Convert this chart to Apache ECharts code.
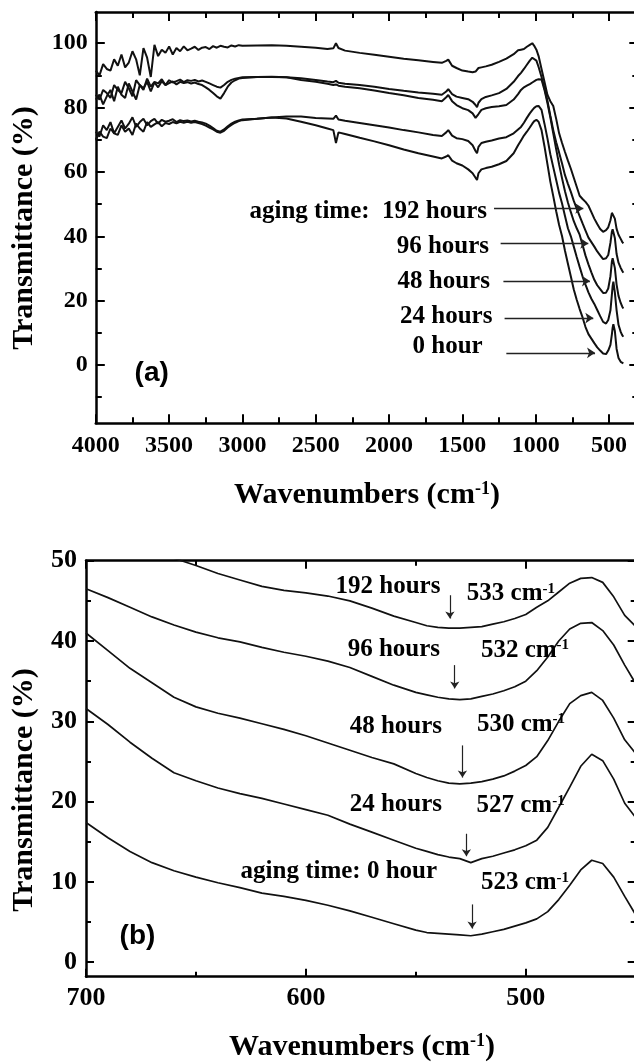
<!DOCTYPE html>
<html>
<head>
<meta charset="utf-8">
<script src="https://cdn.jsdelivr.net/npm/echarts@6/dist/echarts.min.js"></script>
<style>
html,body{margin:0;padding:0;background:#fff;}
#chart{width:634px;height:1064px;}
</style>
</head>
<body>
<div id="chart"></div>
<script>
// ---------- Panel (a): full spectra ----------
const topWavenumbers = [
  4000,3975,3950,3925,3900,3875,3850,3825,3800,3775,3750,3725,3700,3675,3650,3625,3600,3575,3550,3525,
  3500,3475,3450,3425,3400,3375,3350,3325,3300,3275,3250,3225,3200,3175,3150,3125,3100,3075,3050,3025,3000,
  2900,2800,2700,2600,2500,2420,2380,2362,2345,2300,2200,2100,2000,1900,1800,1700,1640,1610,1596,1570,
  1540,1500,1460,1430,1410,1400,1390,1370,1340,1300,1250,1200,1150,1120,1100,1080,1060,1040,1023,1010,
  995,980,960,940,920,900,880,860,840,820,800,780,760,740,720,700,680,660,640,620,
  600,580,560,540,520,505,490,480,475,470,460,448,435,420,410,402
];
const top192h = [
  91.5,90,93.5,92,91.5,95,93,96.5,92.5,94,97.5,95,90,98.5,95.5,89.5,99.5,96,98,97,
  99,96.5,98.5,97.5,99,97.8,98.3,98.9,97.9,98.6,98.8,98.2,99.1,98.6,99.2,98.9,98.7,99.3,99,99.4,99.2,
  99.3,99.4,99.2,98.9,98.6,98.2,98.4,100,98.5,97.7,97,96.4,95.8,95.2,94.7,94.2,93.9,94.5,94.9,93,
  92.3,91.5,91.2,91,91.2,91.5,92.3,92.5,92.8,93.3,94.2,95.2,96.6,97.8,98,98.2,98.9,99.5,100,99.2,
  98,96,92,88,84,82,80.5,76.5,72,69,66.2,63.5,61,58.2,55.4,52.6,51.6,50.7,49.5,47.5,
  45.5,43.8,42.3,41.4,41.9,42.8,45,47.3,47.8,47.9,45.5,42.3,40.5,39.2,38.3,37.8
];
const top96h = [
  84,82.5,85.5,84.5,83,87,85.5,84.5,88,86,83.5,88.5,87,85.5,89,86.5,88,87.5,88.8,87,
  88.5,87.8,88.2,88.7,87.9,88.5,88.3,88.6,88.1,88.4,88,87.5,87,86.5,86.2,87,88,88.6,89,89.2,89.4,
  89.5,89.5,89.4,89.1,88.6,88.1,87.9,88.3,87.7,87.4,87,86.5,85.8,85.2,84.7,84.3,84,85,85.7,84.2,
  83.4,83,82.6,81.8,80.8,80.1,81.5,82.6,83.3,83.8,84.5,85.8,88,89.8,90.8,92,93.3,94.6,95.5,95.8,
  94.6,92.6,89.5,86,82.2,77.5,73,69.2,66,62.6,59,56.3,53.8,51,48.6,46.3,44,41.8,39.6,38.2,
  36.8,35.3,34.1,32.9,33.2,34.2,38,41.5,42.2,42.3,39.5,34.5,31.8,30.2,29.3,28.7
];
const top48h = [
  82.5,84,81,83.5,85.5,82,86.5,84,83,87.5,85,82.5,87,86,88,85,87.8,86.3,88.2,87,
  87.6,88.1,87.2,88,87.6,87.9,87.5,87.8,87.3,87,86.3,85.5,84.5,83.5,82.8,84.5,86.5,87.8,88.5,89,89.2,
  89.5,89.6,89.4,88.6,88,87.4,87,87.2,86.8,86.5,86,85.3,84.5,83.8,83,82.4,82,83.2,83.9,82,
  80.8,79.8,79.2,78.2,76.8,76.2,78,79.3,79.8,80.2,80.4,80.8,82.5,84.2,85.5,86.3,86.8,87.3,87.8,88.2,
  88.6,88.8,88.7,85.5,81.5,77,72,67,62.3,58,54,50.5,47.5,44.7,42.5,40.5,37.3,34,31.3,28.8,
  26.5,24.8,23.6,22.4,22.5,23.8,27.6,32.2,33.2,33.6,30.2,25,21.5,19.3,18.2,17.6
];
const top24h = [
  72.5,71,74.5,73,75.5,72,74,76,73.5,75,77,74,75.5,76.5,74.5,75.8,76.5,75,76.2,75.6,
  75.9,76.4,75.5,76.1,75.8,76,75.7,75.9,75.6,75.4,75,74.4,73.6,72.8,72.5,73.2,74.2,75,75.6,76,76.3,
  76.5,76.9,77.2,77.2,76.8,76.6,76.5,77.5,76.3,75.9,75.2,74.5,73.8,73,72.3,71.5,71.2,72.3,73,71.3,
  70.5,70.2,69.6,68.3,66.5,65.8,67.8,69,69.4,69.8,70.4,70.8,72,73.2,74,75.3,76.8,78.2,79.2,79.9,
  80.4,80.5,79.3,75,70.5,65.5,61.5,57.5,53.5,50.2,46.3,42.5,40,36.8,33.6,30.5,27.5,25,22.6,20.6,
  19,17.1,15.2,13.4,12.9,14,17,22,24.6,25.9,22.6,17,12.5,10.3,9.3,8.8
];
const top0h = [
  70,72.5,71,70.5,73.5,72,71.5,74.5,72.5,73.5,71.5,75,73.5,72.5,75.5,74,74.8,75.5,74.2,75.2,
  74.9,75.5,75.1,75.6,75.3,75.6,75.3,75.5,75.2,74.9,74.4,73.8,73.2,72.5,72.2,72.8,73.8,74.6,75.3,75.8,76.1,
  76.5,76.9,76.6,75.6,74.5,73.5,73,69,72.3,71.8,70.6,69.5,68.3,67,65.8,64.8,64.2,64.8,65.2,63.5,
  62.7,62,60.8,59.6,58.2,57.5,59.6,60.8,61.2,61.6,62.4,63.4,65.8,68.3,69.8,71.3,72.5,73.8,75,75.8,
  76.2,75.6,73,68,62.5,57,52.5,47.8,43.5,40,35.5,31.5,27.5,23.5,20.3,17.4,14.8,11.8,9.6,8.2,
  6.8,5.5,4.5,3.6,3.4,4.5,6.3,9.6,11.6,12.7,10.6,5,2.2,1,0.6,0.5
];

// ---------- Panel (b): 700-450 cm-1 detail ----------
const bottomWavenumbers = [700,690,680,670,660,650,640,630,620,610,600,590,580,570,560,
  550,545,540,535,530,525,520,515,510,505,500,495,490,485,480,475,470,465,460,455,450];
const bottom192h = [54.5,53.5,52.5,51.4,50.3,49.4,48.4,47.6,46.8,46.3,46,45.6,45,44.1,43.1,
  42.3,41.9,41.7,41.6,41.6,41.7,41.8,42.1,42.4,42.8,43.3,44.2,45,46.1,47.2,47.8,47.9,47.3,45.5,43.2,41.8];
const bottom96h = [46.5,45.4,44.2,43,42,41.1,40.4,39.9,39.2,38.6,38.1,37.5,36.7,35.6,34.5,
  33.6,33.3,33,32.8,32.7,32.8,33.1,33.4,33.8,34.3,35,36.3,38,40,41.5,42.2,42.3,41.3,39.5,37,34.7];
const bottom48h = [41,38.8,36.6,34.8,33,31.8,31,30.4,29.7,29,28.2,27.3,26.4,25.5,24.7,
  23.5,23,22.6,22.3,22.2,22.3,22.5,22.8,23.2,23.8,24.5,25.6,27.6,30,32.2,33.2,33.6,32.6,30.4,27.7,26];
const bottom24h = [31.6,29.6,27.4,25.4,23.6,22.6,21.7,21,20.4,19.7,19,18.3,17.2,16.2,15.2,
  14.2,13.8,13.4,13.1,12.9,12.4,12.9,13.2,13.6,14,14.5,15.2,16.8,19.3,21.8,24.4,25.9,25.1,22.8,19.8,18];
const bottom0h = [17.4,15.5,13.8,12.4,11.4,10.6,9.9,9.3,8.6,8.2,7.7,7.1,6.4,5.6,4.8,
  4,3.7,3.6,3.5,3.4,3.3,3.5,3.8,4.1,4.5,4.9,5.4,6.3,7.8,9.6,11.5,12.7,12.3,10.6,8.2,5.9];

// ---------- Tick values ----------
const topXLabels = [4000,3500,3000,2500,2000,1500,1000,500];
const topXMinor = [3750,3250,2750,2250,1750,1250,750];
const topYLabels = [0,20,40,60,80,100];
const topYMinor = [-10,10,30,50,70,90];
const bottomXLabels = [700,600,500];
const bottomXMinor = [650,550];
const bottomYLabels = [0,10,20,30,40,50];
const bottomYMinor = [5,15,25,35,45];

// ---------- Annotations (data units) ----------
const topTexts = [
  {t:'aging time:  192 hours', w:1332, v:47.7, align:'right'},
  {t:'96 hours', w:1318, v:36.8, align:'right'},
  {t:'48 hours', w:1312, v:25.9, align:'right'},
  {t:'24 hours', w:1295, v:15.0, align:'right'},
  {t:'0 hour', w:1840, v:5.7, align:'left'}
];
const topArrows = [
  [1284,48.65,675,48.65],
  [1239,37.8,641,37.8],
  [1220,26.1,630,26.1],
  [1212,14.6,607,14.6],
  [1200,3.8,595,3.8]
];
const bottomTexts = [
  {t:'192 hours', w:586.5, v:46.8},
  {t:'533 cm{sup|-1}', w:526.8, v:45.9},
  {t:'96 hours', w:581, v:38.9},
  {t:'532 cm{sup|-1}', w:520.4, v:38.85},
  {t:'48 hours', w:580.1, v:29.4},
  {t:'530 cm{sup|-1}', w:522.2, v:29.6},
  {t:'24 hours', w:580.1, v:19.6},
  {t:'527 cm{sup|-1}', w:522.4, v:19.5},
  {t:'aging time: 0 hour', w:629.7, v:11.3},
  {t:'523 cm{sup|-1}', w:520.4, v:9.9}
];
const bottomArrows = [
  [534.5,45.7,534.5,42.8],
  [532.3,37.0,532.3,34.1],
  [528.8,27.0,528.8,23.0],
  [527.0,16.0,527.0,13.2],
  [524.4,7.2,524.4,4.2]
];

const serif = "'Liberation Serif','Times New Roman',serif";
const sans = "'Liberation Sans',Arial,sans-serif";

function frameAxes(dim, gridIndex, min, max, inverse, labels, minors, labelSize, margin, majorLen, minorLen) {
  const pos = dim === 'x' ? ['bottom','top'] : ['left','right'];
  const base = {type:'value', gridIndex, min, max, inverse, splitLine:{show:false}, axisPointer:{show:false}};
  const line = {show:true, onZero:false, lineStyle:{color:'#000', width:2.5}};
  const noLine = {show:false, onZero:false};
  const tick = (vals, len) => ({show:true, inside:true, length:len, customValues:vals, lineStyle:{color:'#000', width:2}});
  return [
    Object.assign({}, base, {position:pos[0], axisLine:line, axisTick:tick(labels, majorLen),
      axisLabel:{show:true, customValues:labels, formatter:(v) => String(v), fontFamily:serif, fontWeight:'bold', fontSize:labelSize, color:'#000', margin}}),
    Object.assign({}, base, {position:pos[0], axisLine:noLine, axisTick:tick(minors, minorLen), axisLabel:{show:false}}),
    Object.assign({}, base, {position:pos[1], axisLine:line, axisTick:tick(labels, majorLen), axisLabel:{show:false}}),
    Object.assign({}, base, {position:pos[1], axisLine:noLine, axisTick:tick(minors, minorLen), axisLabel:{show:false}})
  ];
}

function lineSeries(name, xs, ys, xi, yi, width) {
  return {type:'line', name, xAxisIndex:xi, yAxisIndex:yi,
    data: xs.map((x, i) => [x, ys[i]]),
    showSymbol:false, symbol:'none', clip:true, silent:true, animation:false,
    lineStyle:{color:'#111', width}};
}

function arrowMarkLine(arrows, size, width) {
  return {silent:true, animation:false, symbol:['none','arrow'], symbolSize:size,
    label:{show:false}, emphasis:{disabled:true},
    lineStyle:{color:'#222', width, type:'solid'},
    itemStyle:{color:'#222'},
    data: arrows.map(a => [{coord:[a[0],a[1]]},{coord:[a[2],a[3]]}])};
}

const chart = echarts.init(document.getElementById('chart'), null, {renderer:'canvas'});

const xAxes = [].concat(
  frameAxes('x', 0, 300, 4000, true, topXLabels, topXMinor, 24, 10, 9, 6),
  frameAxes('x', 1, 450, 700, true, bottomXLabels, bottomXMinor, 26, 9, 8, 5)
);
const yAxes = [].concat(
  frameAxes('y', 0, -18.1, 109.7, false, topYLabels, topYMinor, 24, 8, 9, 6),
  frameAxes('y', 1, -1.8, 50, false, bottomYLabels, bottomYMinor, 26, 9, 8, 5)
);

const series = [
  lineSeries('192 hours', topWavenumbers, top192h, 0, 0, 2),
  lineSeries('96 hours', topWavenumbers, top96h, 0, 0, 2),
  lineSeries('48 hours', topWavenumbers, top48h, 0, 0, 2),
  lineSeries('24 hours', topWavenumbers, top24h, 0, 0, 2),
  lineSeries('0 hour', topWavenumbers, top0h, 0, 0, 2),
  lineSeries('192 hours b', bottomWavenumbers, bottom192h, 4, 4, 1.7),
  lineSeries('96 hours b', bottomWavenumbers, bottom96h, 4, 4, 1.7),
  lineSeries('48 hours b', bottomWavenumbers, bottom48h, 4, 4, 1.7),
  lineSeries('24 hours b', bottomWavenumbers, bottom24h, 4, 4, 1.7),
  lineSeries('0 hour b', bottomWavenumbers, bottom0h, 4, 4, 1.7)
];
series[0].markLine = arrowMarkLine(topArrows, 8, 1.3);
series[5].markLine = arrowMarkLine(bottomArrows, 7, 1.2);

chart.setOption({
  backgroundColor:'#fff',
  animation:false,
  grid:[
    {left:95.8, top:12, width:542.5, height:411.3, containLabel:false, outerBoundsMode:'none'},
    {left:86, top:560.7, width:549.7, height:416, containLabel:false, outerBoundsMode:'none'}
  ],
  xAxis:xAxes,
  yAxis:yAxes,
  series
});

function textEl(x, y, text, size, supSize, align, family, rotation) {
  return {type:'text', x, y, rotation: rotation || 0, silent:true, z:100,
    style:{text, fontFamily:family || serif, fontWeight:'bold', fontSize:size, fill:'#000',
      align: align || 'left', verticalAlign:'middle',
      rich:{sup:{fontFamily:family || serif, fontWeight:'bold', fontSize:supSize, fill:'#000', verticalAlign:'top'}}}};
}

const graphics = [];
topTexts.forEach(a => {
  const p = chart.convertToPixel({seriesIndex:0}, [a.w, a.v]);
  graphics.push(textEl(p[0], p[1], a.t, 25, 15, a.align));
});
bottomTexts.forEach(a => {
  const p = chart.convertToPixel({seriesIndex:5}, [a.w, a.v]);
  graphics.push(textEl(p[0], p[1], a.t, 25, 15, 'left'));
});
const pa = chart.convertToPixel({seriesIndex:0}, [3619, -2.5]);
graphics.push(textEl(pa[0], pa[1], '(a)', 28, 16, 'center', sans));
const pb = chart.convertToPixel({seriesIndex:5}, [676.6, 3.2]);
graphics.push(textEl(pb[0], pb[1], '(b)', 28, 16, 'center', sans));
// axis titles
graphics.push(textEl(367, 495, 'Wavenumbers (cm{sup|-1})', 30, 18, 'center'));
graphics.push(textEl(362, 1047, 'Wavenumbers (cm{sup|-1})', 30, 18, 'center'));
graphics.push(textEl(24, 228, 'Transmittance (%)', 30, 18, 'center', serif, Math.PI / 2));
graphics.push(textEl(24, 790, 'Transmittance (%)', 30, 18, 'center', serif, Math.PI / 2));

chart.setOption({graphic: graphics});
</script>
</body>
</html>
